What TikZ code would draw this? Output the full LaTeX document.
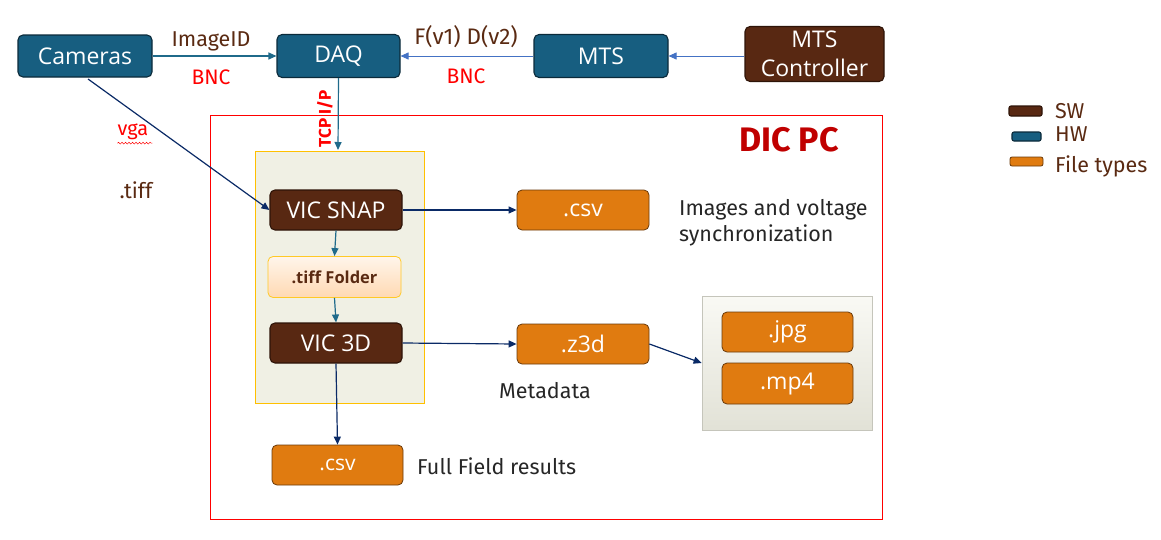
\documentclass[tikz,border=0pt]{standalone}
\usepackage{fontspec}
\setmainfont{Open Sans}
\newfontfamily\lblfont{Fira Sans}
\newfontfamily\boxfont{Open Sans}
\usetikzlibrary{arrows.meta,decorations.pathmorphing}
\definecolor{hwf}{HTML}{175E80}
\definecolor{hwb}{HTML}{0B2A3A}
\definecolor{swf}{HTML}{582812}
\definecolor{swb}{HTML}{2E1408}
\definecolor{ftf}{HTML}{E07B10}
\definecolor{ftb}{HTML}{6A3A0A}
\definecolor{lbl}{HTML}{5A2A12}
\definecolor{navy}{HTML}{0A2A66}
\definecolor{teal}{HTML}{1F6A8A}
\definecolor{lblue}{HTML}{4472C4}
\definecolor{dred}{HTML}{C00000}
\definecolor{gold}{HTML}{FFC000}
\definecolor{beige}{HTML}{F0F0E4}
\tikzset{
  x=1pt, y=-1pt,
  basebox/.style={rounded corners=5pt, line width=1.1pt, inner sep=0pt, text=white,
    font=\boxfont\fontsize{23}{26}\selectfont, align=center},
  hwbox/.style={basebox, draw=hwb, fill=hwf},
  swbox/.style={basebox, draw=swb, fill=swf},
  ftbox/.style={basebox, draw=ftb, fill=ftf, line width=0.8pt},
  lbltext/.style={font=\lblfont\fontsize{21.5}{24}\selectfont, text=lbl, inner sep=0pt},
  redtext/.style={font=\lblfont\fontsize{21}{24}\selectfont, text=red, inner sep=0pt},
  dtext/.style={font=\lblfont\fontsize{21.5}{24}\selectfont, text=black!85, inner sep=0pt},
  arr/.style={-{Triangle[length=8pt,width=7pt]}, line width=1.2pt},
}
\begin{document}
\begin{tikzpicture}
\useasboundingbox (0,0) rectangle (1161,539);
% DIC PC frame
\draw[red, line width=0.9pt] (210,115) rectangle (882,519);
\node[font=\lblfont\bfseries\fontsize{34}{36}\selectfont, text=dred, inner sep=0pt] (dic) at (789,140) {DIC PC};
% inner beige box
\node[draw=gold, fill=beige, line width=0.8pt, minimum width=169pt, minimum height=252pt, inner sep=0pt] (inner) at (339.5,277) {};
% right box
\node[draw=black!18!beige, top color=white!60!beige, bottom color=black!6!beige, line width=0.8pt, minimum width=170pt, minimum height=134pt, inner sep=0pt] (media) at (787,363) {};
% top row
\node[hwbox, minimum width=134pt, minimum height=42pt] (cam) at (85,56) {Cameras};
\node[hwbox, minimum width=123pt, minimum height=43pt] (daq) at (338.5,56) {DAQ};
\node[hwbox, minimum width=134pt, minimum height=43pt] (mts) at (601,56) {MTS};
\node[swbox, minimum width=139pt, minimum height=55pt, font=\boxfont\fontsize{23}{29}\selectfont] (ctrl) at (814.5,54) {MTS\\Controller};
% labels
\node[lbltext] (limg) at (211,41) {ImageID};
\node[redtext] (lbnc1) at (211,77) {BNC};
\node[lbltext, font=\lblfont\fontsize{22.5}{24}\selectfont] (lfd) at (466,37) {F(v1) D(v2)};
\node[redtext] (lbnc2) at (466,76) {BNC};
\node[font=\lblfont\bfseries\fontsize{17}{19}\selectfont, text=red, inner sep=0pt, rotate=90] (ltcp) at (325,119) {TCP I/P};
\node[font=\lblfont\fontsize{20}{22}\selectfont, text=red, inner sep=0pt] (lvga) at (133,132) {vga};
\draw[red, line width=0.5pt, decorate, decoration={snake, amplitude=0.9pt, segment length=3.5pt}] (lvga.south west) ++(0,3) -- ++(35,0);
\node[lbltext] (ltiff) at (136,190) {.tiff};
% inner components
\node[swbox, minimum width=132pt, minimum height=40pt] (snap) at (336,210) {VIC SNAP};
\node[draw=gold!85!white, top color=orange!8!white, bottom color=orange!30!white, rounded corners=5pt, line width=0.8pt, minimum width=133pt, minimum height=41pt, inner sep=0pt, text=lbl, font=\boxfont\bfseries\fontsize{16.5}{18}\selectfont] (folder) at (334.5,277) {.tiff Folder};
\node[swbox, minimum width=132pt, minimum height=40pt] (vic3d) at (336,343) {VIC 3D};
\node[ftbox, minimum width=132pt, minimum height=40pt] (csv1) at (583,210) {.csv};
\node[ftbox, minimum width=132pt, minimum height=40pt] (z3d) at (583,344) {.z3d};
\node[ftbox, minimum width=131pt, minimum height=40pt] (jpg) at (787.5,332) {.jpg};
\node[ftbox, minimum width=131pt, minimum height=41pt] (mp4) at (787.5,383.5) {.mp4};
\node[ftbox, minimum width=131pt, minimum height=40pt, font=\boxfont\fontsize{21}{23}\selectfont] (csv2) at (337.5,465) {.csv};
% descriptions
\node[dtext, anchor=west, align=left, font=\lblfont\fontsize{21.5}{26}\selectfont] (lsync) at (679,223) {Images and voltage\\synchronization};
\node[dtext] (lmeta) at (545,391) {Metadata};
\node[dtext, anchor=west] (lfull) at (417,466) {Full Field results};
% connectors
\draw[arr, teal] (cam) -- (daq);
\draw[arr, lblue, line width=0.9pt] (mts) -- (daq);
\draw[arr, lblue, line width=0.9pt] (ctrl.west |- mts) -- (mts);
\coordinate (tcpend) at (338,150);
\draw[arr, teal] (daq.south) -- (tcpend);
\coordinate (camout) at (88,79);
\draw[arr, navy] (camout) -- (snap.west);
\draw[arr, navy] (snap.east) -- (csv1.west);
\draw[arr, teal] (snap.south) -- (folder.north);
\draw[arr, teal] (folder.south) -- (vic3d.north);
\draw[arr, navy] (vic3d.east) -- (z3d.west);
\draw[arr, navy] (z3d.east) -- (media.west);
\draw[arr, navy] (vic3d.south) -- (csv2.north);
% legend
\node[swbox, minimum width=33pt, minimum height=10pt, rounded corners=2pt] (lgsw) at (1025.5,111) {};
\node[hwbox, minimum width=29pt, minimum height=9pt, rounded corners=2pt] (lghw) at (1026.5,136.5) {};
\node[ftbox, minimum width=33pt, minimum height=9pt, rounded corners=2pt] (lgft) at (1026.5,161.5) {};
\node[lbltext, anchor=west] (tsw) at (1055,111) {SW};
\node[lbltext, anchor=west] (thw) at (1055,134) {HW};
\node[lbltext, anchor=west] (tft) at (1055,166) {File types};
\end{tikzpicture}
\end{document}
